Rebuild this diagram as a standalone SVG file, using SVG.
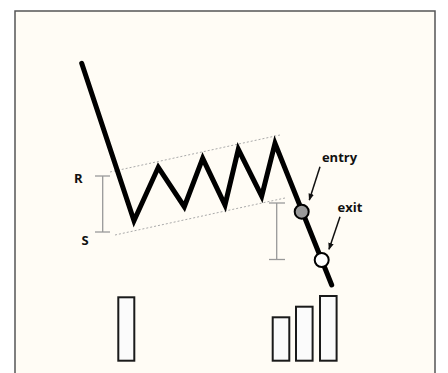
<svg xmlns="http://www.w3.org/2000/svg" width="448" height="373" viewBox="0 0 448 373">
<style>
.lbl{font-family:"Open Sans","Liberation Sans",sans-serif;font-weight:bold;font-size:13px;fill:#111;text-anchor:middle}
.dot{stroke:#aaa;stroke-width:1;stroke-dasharray:2 2;fill:none}
.brk{stroke:#999;stroke-width:1.3;fill:none}
.bar{fill:#fbfbfb;stroke:#1a1a1a;stroke-width:2}
.arr{stroke:#111;stroke-width:1.5;fill:none;marker-end:url(#ah)}
</style>
<defs>
<marker id="ah" viewBox="0 0 10 10" refX="9" refY="5" markerWidth="7" markerHeight="7" orient="auto" markerUnits="userSpaceOnUse">
<path d="M0,1 L10,5 L0,9 Z" fill="#111"/>
</marker>
</defs>
<rect x="0" y="0" width="448" height="373" fill="#ffffff"/>
<rect id="frame" x="15" y="11" width="420" height="400" fill="#fffcf5" stroke="#555" stroke-width="1.5"/>
<g id="channel">
<line class="dot" x1="110" y1="172" x2="280" y2="135"/>
<line class="dot" x1="115" y1="235" x2="285" y2="198"/>
</g>
<g id="bracket-rs">
<line class="brk" x1="102.7" y1="176" x2="102.7" y2="232"/>
<line class="brk" x1="95" y1="176" x2="110" y2="176"/>
<line class="brk" x1="95" y1="232" x2="110" y2="232"/>
</g>
<g id="bracket-target">
<line class="brk" x1="276.7" y1="203" x2="276.7" y2="259.5" stroke="#bbb"/>
<line class="brk" x1="269" y1="203" x2="285" y2="203" stroke="#bbb"/>
<line class="brk" x1="269" y1="259.5" x2="285" y2="259.5" stroke="#bbb"/>
</g>
<g id="price">
<polyline points="81.7,63.3 134,220.7 158.3,167.3 184.3,206.7 202.7,158.3 225,205 238.3,149.3 261.7,196 275,143.3 331.7,285" fill="none" stroke="#000" stroke-width="5" stroke-linejoin="miter" stroke-linecap="round"/>
</g>
<g id="entry-point">
<circle cx="301.7" cy="211.7" r="7" fill="#999" stroke="#000" stroke-width="2"/>
</g>
<g id="exit-point">
<circle cx="321.7" cy="260" r="7" fill="#fff" stroke="#000" stroke-width="2"/>
</g>
<g id="labels">
<text class="lbl" x="78.3" y="182.5">R</text>
<text class="lbl" x="85" y="244.5">S</text>
<text id="entry" class="lbl" x="339.5" y="162">entry</text>
<text id="exit" class="lbl" x="350" y="211.5">exit</text>
</g>
<g id="connectors">
<line class="arr" x1="320" y1="166.7" x2="309.3" y2="200"/>
<line class="arr" x1="340" y1="216.7" x2="329" y2="249.3"/>
</g>
<g id="volume">
<rect class="bar" x="118.3" y="297.3" width="16" height="63.4"/>
<rect class="bar" x="272.7" y="317.3" width="16.6" height="43.4"/>
<rect class="bar" x="296" y="306.7" width="16.6" height="54"/>
<rect class="bar" x="320" y="296" width="16.6" height="64.7"/>
</g>
</svg>
